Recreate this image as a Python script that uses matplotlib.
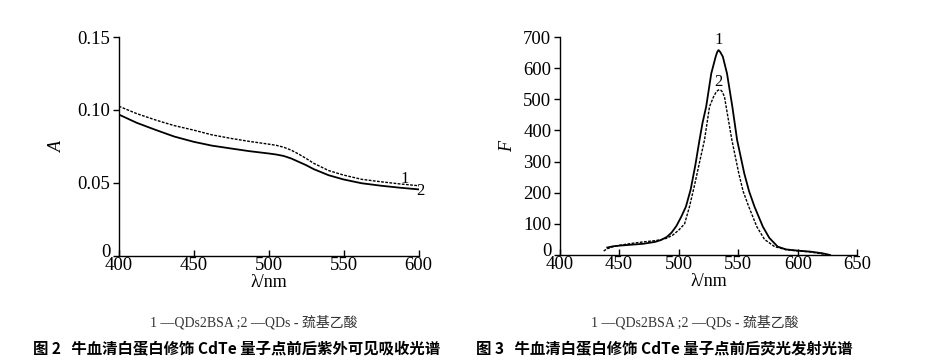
import matplotlib
matplotlib.use('Agg')
import matplotlib.pyplot as plt
import matplotlib.transforms as mtransforms

# UV-vis absorption (left panel)
wl_abs = [400, 412, 425, 437, 450, 462, 475, 487, 500, 505, 510, 515, 520, 525, 530, 540, 550, 562, 575, 587, 600]
abs_bsa = [0.1026, 0.0975, 0.0930, 0.0893, 0.0862, 0.0830, 0.0805, 0.0785, 0.0766, 0.0758, 0.0745, 0.0725, 0.0698, 0.0668, 0.0635, 0.0585, 0.0554, 0.0525, 0.0508, 0.0494, 0.0481]
abs_mpa = [0.0969, 0.0912, 0.0862, 0.0818, 0.0782, 0.0756, 0.0736, 0.0718, 0.0702, 0.0695, 0.0685, 0.0668, 0.0645, 0.0622, 0.0595, 0.0553, 0.0524, 0.0498, 0.0481, 0.0468, 0.0456]

# fluorescence emission (right panel)
wl_f1 = [440, 445, 450, 460, 470, 480, 485, 490, 494, 498, 502, 506, 510, 514, 517.4, 520, 523, 527.3, 531,
         532.3, 533.4, 534.8, 537, 540.5, 545, 549, 555, 559, 563.6, 570.6, 576, 583, 590, 600, 610, 620, 627]
f_bsa = [24, 28, 30, 33, 36, 42, 48, 58, 72, 93, 122, 155, 210, 290, 369, 425, 476, 583, 637,
         652, 658, 652, 637, 583, 476, 369, 262, 205, 155, 91, 55, 27, 18, 14, 11, 6, 0]
wl_f2 = [437, 440, 445, 450, 460, 470, 480, 485, 490, 495, 500, 504.9, 509, 513, 517, 521.6, 525.8, 529.2, 531.5,
         533, 534.2, 535.4, 536.5, 538.4, 539.8, 544.6, 550.4, 554, 558.8, 565.5, 572, 580.4, 590, 600, 610, 620, 626]
f_mpa = [13, 20, 27, 31, 37, 42, 46, 49, 54, 64, 80, 100, 155, 220, 290, 369, 476, 508, 524,
         529, 531, 529, 524, 508, 476, 369, 262, 205, 155, 91, 50, 27, 17, 13, 10, 4, 0]

serif = 'Liberation Serif'
cjk = ['Liberation Serif', 'Noto Sans CJK SC']

fig = plt.figure(figsize=(9.28, 3.63), dpi=100)


def style_axes(ax):
    for s in ['top', 'right']:
        ax.spines[s].set_visible(False)
    for s in ['left', 'bottom']:
        ax.spines[s].set_linewidth(1.0)
    ax.tick_params(axis='y', direction='out', length=4, width=1, pad=2)
    ax.tick_params(axis='x', direction='in', length=4, width=1, pad=1)
    for lab in ax.get_xticklabels() + ax.get_yticklabels():
        lab.set_fontfamily(serif)
        lab.set_fontsize(13.5)
    # the y "0" sits just above the first x label, as in the print
    zero = ax.get_yticklabels()[0]
    zero.set_transform(zero.get_transform() + mtransforms.ScaledTranslation(0, 4 / 72, fig.dpi_scale_trans))


ax1 = fig.add_axes([0.128, 0.295, 0.323, 0.603])
ax1.plot(wl_abs, abs_bsa, color='black', lw=1.0, linestyle=(0, (2, 1)))
ax1.plot(wl_abs, abs_mpa, color='black', lw=1.3)
ax1.set_xlim(400, 600)
ax1.set_ylim(0, 0.15)
ax1.set_xticks([400, 450, 500, 550, 600])
ax1.set_yticks([0, 0.05, 0.10, 0.15])
ax1.set_yticklabels(['0', '0.05', '0.10', '0.15'])
style_axes(ax1)
ax1.text(590.5, 0.0525, '1', fontfamily=serif, fontsize=12, ha='center', va='center')
ax1.text(601.5, 0.0447, '2', fontfamily=serif, fontsize=12, ha='center', va='center')
ax1.set_xlabel('λ/nm', fontfamily=serif, fontsize=13, labelpad=0)
ax1.set_ylabel('A', fontfamily=serif, style='italic', fontsize=13, labelpad=8)

ax2 = fig.add_axes([0.603, 0.2975, 0.321, 0.6005])
ax2.plot(wl_f1, f_bsa, color='black', lw=1.3)
ax2.plot(wl_f2, f_mpa, color='black', lw=1.0, linestyle=(0, (2, 1)))
ax2.set_xlim(400, 650)
ax2.set_ylim(0, 700)
ax2.set_xticks([400, 450, 500, 550, 600, 650])
ax2.set_yticks(range(0, 701, 100))
style_axes(ax2)
ax2.text(533.5, 690, '1', fontfamily=serif, fontsize=12, ha='center', va='center')
ax2.text(533, 556, '2', fontfamily=serif, fontsize=12, ha='center', va='center')
ax2.set_xlabel('λ/nm', fontfamily=serif, fontsize=13, labelpad=0)
ax2.set_ylabel('F', fontfamily=serif, style='italic', fontsize=13, labelpad=5)

caption = '1 —QDs2BSA ;2 —QDs - 巯基乙酸'
fig.text(254 / 928, 1 - 322 / 363, caption, family=cjk, fontsize=10, color='#333333', ha='center', va='center')
fig.text(695 / 928, 1 - 322 / 363, caption, family=cjk, fontsize=10, color='#333333', ha='center', va='center')

fig.text(33 / 928, 1 - 349 / 363, '图 2   牛血清白蛋白修饰 CdTe 量子点前后紫外可见吸收光谱',
         family=['Noto Sans CJK SC'], fontweight='bold', fontsize=11.1, ha='left', va='center')
fig.text(476 / 928, 1 - 349 / 363, '图 3   牛血清白蛋白修饰 CdTe 量子点前后荧光发射光谱',
         family=['Noto Sans CJK SC'], fontweight='bold', fontsize=11.1, ha='left', va='center')

fig.savefig('out.png', dpi=100)
